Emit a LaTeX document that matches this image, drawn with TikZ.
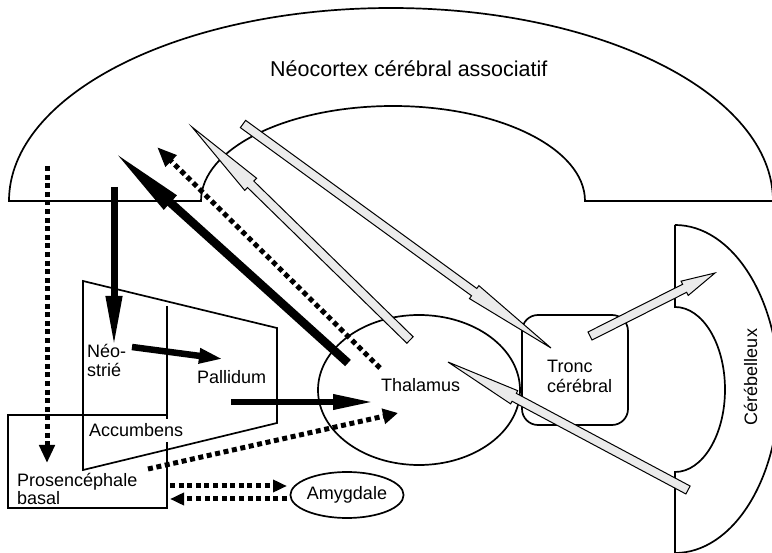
\documentclass[tikz,border=0pt]{standalone}
\usepackage{fontspec}
\setmainfont{Liberation Sans}
\usetikzlibrary{arrows.meta,calc,shapes.geometric}
\newcommand\hollowarrow[5]{%
  \coordinate (hb) at ($(#2)!#4!(#1)$);
  \filldraw[hollow] ($(#1)!#3!90:(#2)$) -- ($(hb)!#3!90:(#2)$) -- ($(hb)!#5!90:(#2)$) -- (#2)
    -- ($(hb)!#5!-90:(#2)$) -- ($(hb)!#3!-90:(#2)$) -- ($(#1)!#3!-90:(#2)$) -- cycle;
}
\begin{document}
\begin{tikzpicture}[x=1pt,y=-1pt,
  outline/.style={line width=1.7pt, line join=miter},
  lbl/.style={inner sep=0pt, font=\fontsize{18}{19}\selectfont, anchor=base west},
  dotarr/.style={line width=5pt, dash pattern=on 5pt off 3.6pt},
  hollow/.style={draw=black, line width=1pt, fill=black!8, line join=miter},
]
\useasboundingbox (0,0) rectangle (772,553);
\clip (0,0) rectangle (772,553);

% cortex
\draw[outline] (9,201) arc[start angle=180, end angle=360, x radius=382, y radius=193]
  -- (585,201) arc[start angle=0, end angle=-180, x radius=192, y radius=95] -- cycle;

% cerebellum
\draw[outline] (675,225) -- (675,307) arc[start angle=270, end angle=450, x radius=50, y radius=82.5] -- (675,553);
\draw[outline] (675,225) arc[start angle=270, end angle=450, x radius=104, y radius=164];

% striatum / pallidum
\draw[outline] (83,281) -- (277,328) -- (277,423) -- (83,470) -- cycle;
\draw[line width=1.3pt] (167,306) -- (167,415);
% basal forebrain
\draw[outline] (8,415) rectangle (167,508);

% thalamus, brainstem, amygdala
\node[draw, outline, ellipse, minimum width=202pt, minimum height=150pt, inner sep=0pt] (thal) at (419,390) {};
\node[draw, outline, rounded corners=16pt, minimum width=106pt, minimum height=110pt] (tronc) at (575,370) {};
\node[draw, outline, ellipse, minimum width=111pt, minimum height=46pt, inner sep=0pt,
      font=\fontsize{18}{19}\selectfont] (amy) at (347,495) {Amygdale};

% coordinates for connectors
\coordinate (d1s) at (47,166);   \coordinate (d1e) at (47,463);
\coordinate (b1s) at (114,187);  \coordinate (b1e) at (114,348);
\coordinate (b2s) at (132,347);  \coordinate (b2e) at (223,359);
\coordinate (b3s) at (231,402);  \coordinate (b3e) at (375,402);
\coordinate (b4s) at (348,363);  \coordinate (b4e) at (111,149);
\coordinate (d2s) at (380,368);  \coordinate (d2e) at (157,147);
\coordinate (d3s) at (148,469);  \coordinate (d3e) at (398,413);
\coordinate (d4s) at (170,486);  \coordinate (d4e) at (287,486);
\coordinate (d5s) at (287,499);  \coordinate (d5e) at (170,499);
\coordinate (g1s) at (410,340);  \coordinate (g1e) at (192,127);
\coordinate (g2s) at (243,124);  \coordinate (g2e) at (551,348);
\coordinate (g3s) at (590,336);  \coordinate (g3e) at (715,273);
\coordinate (g4s) at (688,490);  \coordinate (g4e) at (448,362);

% dotted arrows
\draw[dotarr, -{Triangle[length=18pt,width=15pt]}] (d1s) -- (d1e);
\draw[dotarr, -{Triangle[length=20pt,width=15pt]}] (d2s) -- (d2e);
\draw[dotarr, -{Triangle[length=15pt,width=15pt]}] (d3s) -- (d3e);
\draw[dotarr, -{Triangle[length=14pt,width=12pt]}] (d4s) -- (d4e);
\draw[dotarr, -{Triangle[length=14pt,width=12pt]}] (d5s) -- (d5e);

% solid black arrows
\draw[line width=7pt, -{Triangle[length=52pt,width=15pt]}] (b1s) -- (b1e);
\draw[line width=6.5pt, -{Triangle[length=24pt,width=14pt]}] (b2s) -- (b2e);
\draw[line width=6.5pt, -{Triangle[length=42pt,width=14pt]}] (b3s) -- (b3e);
\draw[line width=8.5pt, -{Triangle[length=80pt,width=17pt]}] (b4s) -- (b4e);

% hollow grey arrows
\hollowarrow{g1s}{g1e}{4.5pt}{82pt}{8.5pt}
\hollowarrow{g2s}{g2e}{4.5pt}{95pt}{8pt}
\hollowarrow{g3s}{g3e}{4.5pt}{34pt}{8pt}
\hollowarrow{g4s}{g4e}{4.5pt}{75pt}{7.5pt}

% labels
\node[lbl, font=\fontsize{21.5}{23}\selectfont] (ctx) at (270,77) {Néocortex cérébral associatif};
\node[lbl] (neo1) at (87,358) {Néo-};
\node[lbl] (neo2) at (87,377) {strié};
\node[lbl] (pal) at (197,384) {Pallidum};
\node[lbl, fill=white, inner xsep=0pt, inner ysep=5pt] (acc) at (89,437) {Accumbens};
\node[lbl] (pro1) at (17,487) {Prosencéphale};
\node[lbl] (pro2) at (17,505) {basal};
\node[lbl] (thl) at (381,392) {Thalamus};
\node[lbl] (tr1) at (547,373) {Tronc};
\node[lbl] (tr2) at (547,393) {cérébral};
\node[lbl, rotate=90, anchor=base] (cer) at (757,377) {Cérébelleux};
\end{tikzpicture}
\end{document}
